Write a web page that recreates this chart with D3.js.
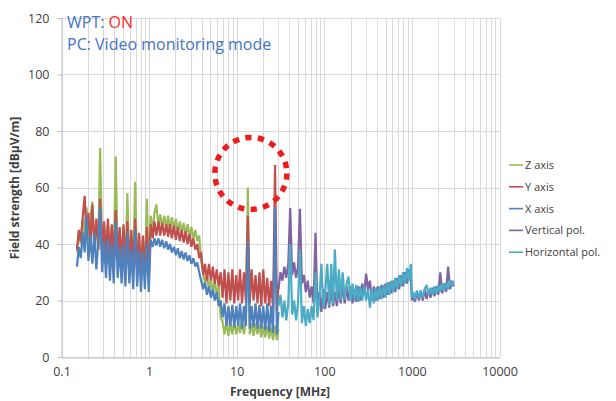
<!DOCTYPE html>
<html><head><meta charset="utf-8">
<script src="https://cdn.jsdelivr.net/npm/d3@7"></script>
<style>body{margin:0;background:#fff}svg{display:block}</style>
</head><body>
<svg id="c" width="616" height="401"></svg>
<script>
// ---- data ----
const freqLow = [0.150,0.158,0.166,0.175,0.184,0.193,0.203,0.214,0.225,0.237,0.250,0.263,0.276,0.291,0.306,0.322,0.339,0.357,0.375,0.395,0.416,0.438,0.461,0.485,0.510,0.537,0.565,0.595,0.626,0.659,0.693,0.730,0.768,0.808,0.851,0.895,0.942,0.992,
1.04,1.10,1.15,1.21,1.28,1.34,1.41,1.49,1.57,1.65,1.73,1.82,1.92,2.02,2.13,2.24,2.36,2.48,2.61,2.75,2.89,3.04,3.20,3.37,3.55,3.73,3.93,4.14,4.35,4.58,4.82,5.08,5.34,5.62,5.92,6.23,6.56,6.90,7.26,7.64,8.04,8.47,8.91,9.38,9.87,
10.4,10.9,11.5,12.1,12.7,13.4,14.1,14.8,15.6,16.4,17.3,18.2,19.1,20.1,21.2,22.3,23.5,24.7,26.0,27.4,28.8,30.0];

const zAxis = [37,44,40,49,43,53,41,49,55,39,48,38,74,37,47,36,47,35,46,34,71,34,45,33,46,32,58,32,44,31,62,31,43,30,42,30,56,29,
50,45,51,54,46,50.5,46,50,45.5,50,45,49.5,45,49,44,48,44,47.5,43,47,42.5,46,42,45,41,43,34,30,26,29,24,27.5,23,27,22,25,14,12.5,8,12.5,7.5,12,8,12.5,8,
12,8.5,13,8,12.5,60,8,12,7.5,12,8,11.5,7,11,7,11,6.5,10.5,6,11,6,10];

const yAxis = [38,45,41,50,57,42,51,40,54,39,49,38,56,37,48,36,49,35,47,34,52,34,46,33,47,32,48,32,45,31,49,31,44,30,43,30,46,29,
47,42,48,43,48,43,47.5,43,47,42.5,47,42,46.5,41.5,46,41,45,40.5,44.5,40,43.5,39,42,38,40,35,37,29,33,27,33,27,32,26,31,25,30,21,31,19,30,20,31,19,29,
20,31,19,30,20,50,19,31,20,29,19,30,18,31,19,28,18,27,17,68,16,26];

const xAxis = [32,39,35,44,37,50,34,43,33,44,31,41,53,30,41,28,42,27,40,26,48,28,39,26,40,25,44,26,38,24,45,25,38,23,37,24,40,23,
41.5,39,42,39.5,42,39,41.5,38.5,41,38,40,37,39,36,38.5,35,37.5,34.5,37,34,36,33,35,32,33.5,30,27,24,26.5,22,25,21,24,20,23,18,20,14,19,11,18,11,18.5,10.5,18,
11,19,10,18,11,41,10,18,10.5,19,10,18.5,10,18,9.5,19,9,18,8.5,53,8,16];

const freqHigh = [30.0,31.6,33.3,35.0,36.8,38.8,40.8,43.0,45.2,47.6,50.1,52.7,55.5,58.4,61.5,64.7,68.1,71.7,75.4,79.4,83.6,88.0,92.6,97.4,102.5,108,114,120,126,132,139,147,154,162,171,180,189,199,210,221,232,244,257,271,285,300,316,332,350,368,387,408,429,452,475,500,527,554,583,614,646,680,716,754,793,835,879,925,974,1000,1030,1080,1140,1200,1260,1330,1400,1470,1550,1630,1720,1810,1900,2000,2110,2220,2340,2460,2590,2730,2870,3000];

const verticalPol = [24,30,27,32,28,33,52.7,29,33.5,28,32,52.5,26,29,23,27,21,25,19,44,17,23,16,24,17,23,17.5,24,18,23,18,24,19,25,19,25,20,25,19,24,19.5,25,20,26,22,29.5,24,27,20,25,20,25,20.5,25.5,21,26,22,26.5,22.5,27,23,28,24,29,25,30,26,31,27,20,23,19.5,23,20,23.5,20,24,20.5,24,21,24.5,21.5,25,22,30,22.5,26,23,32,24,27,25];

const horizontalPol = [18,22,14,20,13,19,40,15,20,13,19,38,12,18,11,17,12,18,13,30,14,21,33,17,23,33,18,33,19,38,20,31,20,30,20.5,26,28.5,20,26,20,25.5,19.5,25,20,25,20,24,17.5,24,19,24.5,20,25,20.5,25.5,21,26.5,22,27,23,28,24,29,25,30,26,31.5,27,33,21,23,20.5,23.5,21,23.5,21,24,25.5,22,24.5,22,25,22.5,25.5,23,26,23.5,26.5,24,27,25,27];

const yTicks = [0,20,40,60,80,100,120];
const xTicks = [0.1,1,10,100,1000,10000];
const xTickLabels = ["0.1","1","10","100","1000","10000"];
const seriesNames = ["Z axis","Y axis","X axis","Vertical pol.","Horizontal pol."];
const seriesColors = ["#9bbb59","#c0504d","#4f81bd","#8064a2","#4bacc6"];

// ---- chart ----
const svg = d3.select("#c");
const x = d3.scaleLog().domain([0.1,10000]).range([61.5,499.5]);
const y = d3.scaleLinear().domain([0,120]).range([357,18]);
const font = "'Open Sans', sans-serif";

// grid
const grid = svg.append("g");
grid.selectAll("line.v").data(x.ticks()).join("line")
  .attr("x1",d=>Math.round(x(d))+0.5).attr("x2",d=>Math.round(x(d))+0.5)
  .attr("y1",y(120)).attr("y2",y(0))
  .attr("stroke","#d9d9d9").attr("stroke-width",1);
grid.selectAll("line.h").data(yTicks).join("line")
  .attr("x1",x(0.1)).attr("x2",x(10000))
  .attr("y1",d=>Math.round(y(d))+0.5).attr("y2",d=>Math.round(y(d))+0.5)
  .attr("stroke","#d9d9d9").attr("stroke-width",1);

// axes
const yAx = svg.append("g").attr("transform","translate(61.5,0)")
  .call(d3.axisLeft(y).tickValues(yTicks).tickSize(4).tickPadding(8));
const xAx = svg.append("g").attr("transform","translate(0,357.5)")
  .call(d3.axisBottom(x).tickValues(xTicks).tickFormat((d,i)=>xTickLabels[i]).tickSize(0).tickPadding(10));
[yAx,xAx].forEach(a=>{
  a.select(".domain").attr("stroke","#bfbfbf");
  a.selectAll(".tick line").attr("stroke","#bfbfbf");
  a.selectAll("text").attr("fill","#404040").style("font-family",font).style("font-size","12.5px");
});

// series
const line = d3.line().x(d=>x(d[0])).y(d=>y(d[1]));
const lowSeries = [zAxis,yAxis,xAxis].map(v=>freqLow.map((f,i)=>[f,v[i]]));
const highSeries = [verticalPol,horizontalPol].map(v=>freqHigh.map((f,i)=>[f,v[i]]));
const allSeries = lowSeries.concat(highSeries);
svg.append("g").selectAll("path").data(allSeries).join("path")
  .attr("d",line).attr("fill","none")
  .attr("stroke",(d,i)=>seriesColors[i]).attr("stroke-width",2.2)
  .attr("stroke-linejoin","miter").attr("stroke-miterlimit",2);

// axis titles
svg.append("text").attr("x",280).attr("y",396).attr("text-anchor","middle")
  .style("font-family",font).style("font-size","12px").style("font-weight","bold")
  .attr("fill","#404040").text("Frequency [MHz]");
svg.append("text").attr("transform","translate(19,188) rotate(-90)").attr("text-anchor","middle")
  .style("font-family",font).style("font-size","12px").style("font-weight","bold")
  .attr("fill","#404040").text("Field strength [dBµV/m]");

// legend
const leg = svg.append("g");
seriesNames.forEach((n,i)=>{
  const ly = 165 + i*21.8;
  leg.append("line").attr("x1",509).attr("x2",523).attr("y1",ly).attr("y2",ly)
    .attr("stroke",seriesColors[i]).attr("stroke-width",1.6);
  leg.append("text").attr("x",525).attr("y",ly+4).style("font-family",font)
    .style("font-size","11px").attr("fill","#404040").text(n);
});

// annotation
const t1 = svg.append("text").attr("x",67).attr("y",28).style("font-family",font).style("font-size","16px");
t1.append("tspan").attr("fill","#4472c4").text("WPT: ");
t1.append("tspan").attr("fill","#ff2a2a").text("ON");
svg.append("text").attr("x",67).attr("y",49.5).style("font-family",font).style("font-size","16px")
  .attr("fill","#4472c4").text("PC: Video monitoring mode");

// dotted circle
svg.append("circle").attr("cx",x(13.4)+3).attr("cy",y(65)).attr("r",36)
  .attr("fill","none").attr("stroke","#ee1c1c").attr("stroke-width",5.5)
  .attr("stroke-dasharray","6.3,6.3");
</script>
</body></html>
